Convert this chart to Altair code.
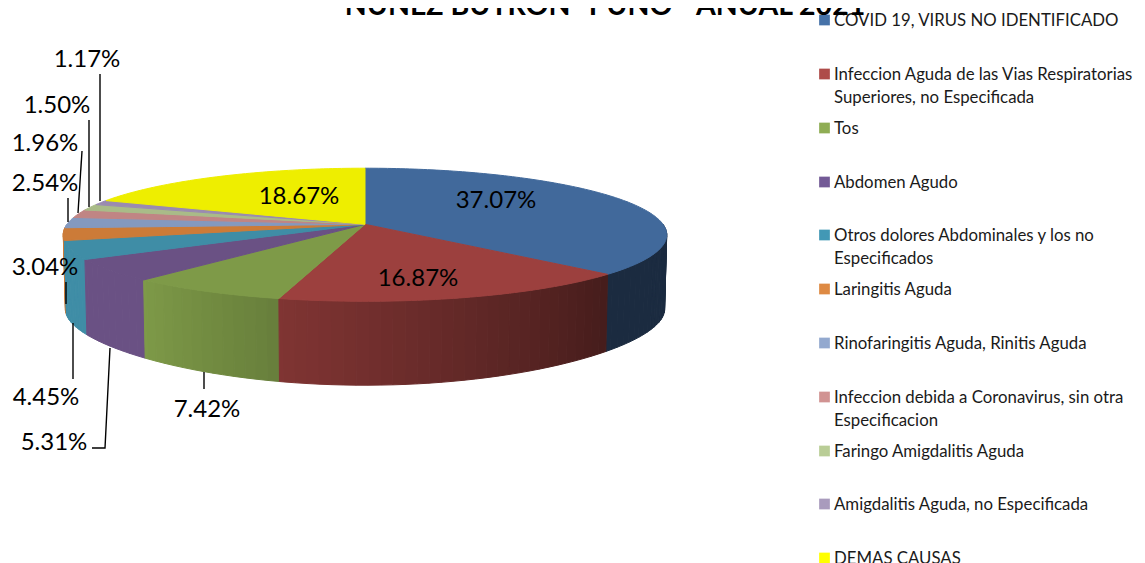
import math
import altair as alt
import pandas as pd

# ---- chart values ----
categories = [
    "COVID 19, VIRUS NO IDENTIFICADO",
    "Infeccion Aguda de las Vias Respiratorias\nSuperiores, no Especificada",
    "Tos",
    "Abdomen Agudo",
    "Otros dolores Abdominales y los no\nEspecificados",
    "Laringitis Aguda",
    "Rinofaringitis Aguda, Rinitis Aguda",
    "Infeccion debida a Coronavirus, sin otra\nEspecificacion",
    "Faringo Amigdalitis Aguda",
    "Amigdalitis Aguda, no Especificada",
    "DEMAS CAUSAS",
]
values = [37.07, 16.87, 7.42, 5.31, 4.45, 3.04, 2.54, 1.96, 1.50, 1.17, 18.67]
title_text = 'NUÑEZ BUTRON"  PUNO - ANUAL 2021'

# ---- styles ----
top_colors = ["#41699B", "#9C403E", "#7E9A48", "#6A5184", "#3F8DA6", "#CC7B38",
              "#8499BF", "#C08584", "#A9BB88", "#9A8BB0", "#EEEE00"]
key_colors = ["#4672A8", "#AE4B49", "#8FAD54", "#735A96", "#4298B5", "#DE8A43",
              "#93A9CF", "#D19392", "#B9CD96", "#A99BBD", "#FFFF00"]
FONT = "Lato"

# ---- layout of the tilted pie (page pixels) ----
CX, CY, RX, AT, KT = 365.0, 224.3, 298.0, 64.9, 0.157
YB, AB, KB = 299.5, 60.0, 0.30
label_pos = [(496, 201), (418, 279), (207, 410), (54, 443), (46, 398), (45, 268),
             (45, 184), (45, 144), (57, 106), (87, 60), (299, 197)]
leaders = [
    [(204, 372), (204, 389)],
    [(110, 348), (105, 448), (92, 448)],
    [(73, 323), (73, 379)],
    [(66, 282), (66, 304)],
    [(68, 198), (68, 222)],
    [(82, 151), (78, 213)],
    [(89, 120), (89, 207)],
    [(100, 74), (100, 201)],
]
key_y = [20, 74, 128, 182, 235, 289, 343, 397, 451, 504, 558]


def top_pt(deg):
    t = math.radians(deg)
    u, v = math.sin(t), math.cos(t)
    s = 1 / (1 + KT * v)
    return CX + RX * u * s, CY - AT * v * s


def bottom_pt(deg):
    t = math.radians(deg)
    u, v = math.sin(t), math.cos(t)
    x = CX + RX * u / (1 + KT * v) * 0.993
    return x, YB - AB * v / (1 + KB * v)


def shade(deg):
    if deg <= 133:
        return 0.41
    if deg <= 194:
        return 0.44 + (deg - 133) / 61 * 0.38
    if deg <= 221:
        return 0.82 + (deg - 194) / 27 * 0.18
    return 1.0


def tint(hex_color, f):
    rgb = [int(hex_color[i:i + 2], 16) for i in (1, 3, 5)]
    return "#%02x%02x%02x" % tuple(int(round(c * f)) for c in rgb)


edges = [0.0]
for val in values:
    edges.append(edges[-1] + val / sum(values) * 360)

rows = []
key = 0


def add_polygon(points, color):
    global key
    for i, (x, y) in enumerate(points):
        rows.append({"k": f"p{key:05d}", "i": i, "x": x, "y": y, "c": color})
    key += 1


# side wall: thin strips, from the rim's outer ends toward the front
strips = []
for n, c in enumerate(top_colors):
    a0, a1 = max(edges[n], 90.0), min(edges[n + 1], 270.0)
    a = a0
    while a < a1:
        b = min(a + 2.0, a1)
        strips.append((a, b, c))
        a = b
strips.sort(key=lambda s: -abs((s[0] + s[1]) / 2 - 180))
for a, b, c in strips:
    mid = (a + b) / 2
    add_polygon([top_pt(a), top_pt(b), bottom_pt(b), bottom_pt(a)], tint(c, shade(mid)))

# top face
for n, c in enumerate(top_colors):
    pts = [(CX, CY)]
    a = edges[n]
    while a < edges[n + 1]:
        pts.append(top_pt(a))
        a += 1.0
    pts.append(top_pt(edges[n + 1]))
    add_polygon(pts, c)

poly_df = pd.DataFrame(rows)

x_scale = alt.Scale(domain=[8, 1137], nice=False, zero=False)
y_scale = alt.Scale(domain=[563, 8], nice=False, zero=False)
X = lambda f="x": alt.X(f"{f}:Q", scale=x_scale, axis=None)
Y = lambda f="y": alt.Y(f"{f}:Q", scale=y_scale, axis=None)

pie = alt.Chart(poly_df).mark_line(strokeWidth=1.0, interpolate="linear-closed").encode(
    x=X(), y=Y(), order="i:Q", detail="k:N",
    fill=alt.Fill("c:N", scale=None), stroke=alt.Stroke("c:N", scale=None),
)

leader_df = pd.DataFrame(
    [{"k": n, "i": i, "x": p[0], "y": p[1]} for n, line in enumerate(leaders) for i, p in enumerate(line)]
)
leader_marks = alt.Chart(leader_df).mark_line(color="#000000", strokeWidth=1.4).encode(
    x=X(), y=Y(), order="i:Q", detail="k:N"
)

pct_df = pd.DataFrame({
    "t": [f"{v:.2f}%" for v in values],
    "x": [p[0] for p in label_pos],
    "y": [p[1] for p in label_pos],
})
pct = alt.Chart(pct_df).mark_text(font=FONT, fontSize=24, color="#000000", align="center",
                                  baseline="middle").encode(x=X(), y=Y(), text="t:N")

key_df = pd.DataFrame({"x": [824.5] * 11, "tx": [834] * 11, "y": key_y,
                       "ty": [v - 7 for v in key_y], "t": categories, "c": key_colors})
squares = alt.Chart(key_df).mark_square(size=115, opacity=1, strokeWidth=0).encode(
    x=X(), y=Y(), fill=alt.Fill("c:N", scale=None))
key_text = alt.Chart(key_df).mark_text(font=FONT, fontSize=16.8, color="#1a1a1a", align="left",
                                       baseline="top", lineBreak="\n", lineHeight=23).encode(
    x=X("tx"), y=Y("ty"), text="t:N")

title = alt.Chart(pd.DataFrame({"x": [605], "y": [15], "t": [title_text]})).mark_text(
    font=FONT, fontSize=28.5, fontWeight="bold", color="#000000", align="center", baseline="alphabetic"
).encode(x=X(), y=Y(), text="t:N")

chart = alt.layer(pie, leader_marks, pct, squares, key_text, title).properties(
    width=1129, height=555, padding=0, autosize=alt.AutoSizeParams(type="none"), background="#ffffff"
).configure_view(stroke=None)

chart.save("out.html", embed_options={"renderer": "svg", "actions": False})
